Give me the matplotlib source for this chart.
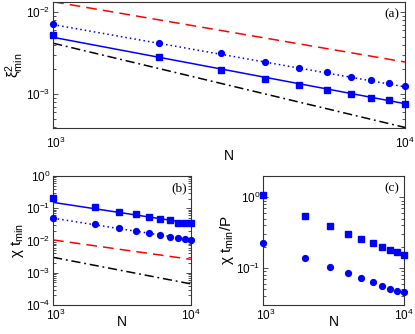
import numpy as np
import matplotlib
matplotlib.use("Agg")
import matplotlib.pyplot as plt
from matplotlib.transforms import ScaledTranslation

plt.rcParams['font.family'] = ['Liberation Sans', 'DejaVu Sans']
plt.rcParams['mathtext.fontset'] = 'custom'
plt.rcParams['mathtext.rm'] = 'Liberation Sans'
plt.rcParams['mathtext.it'] = 'Liberation Sans'
plt.rcParams['mathtext.sf'] = 'Liberation Sans'
plt.rcParams['mathtext.default'] = 'regular'

N = [1000, 2000, 3000, 4000, 5000, 6000, 7000, 8000, 9000, 10000]
N_ends = [1000, 10000]

# panel (a): xi^2_min
a_sq = [5.2e-3, 2.8e-3, 1.98e-3, 1.54e-3, 1.3e-3, 1.12e-3, 1.0e-3, 8.9e-4, 8.4e-4, 7.6e-4]
a_ci = [7.1e-3, 4.15e-3, 3.13e-3, 2.48e-3, 2.08e-3, 1.84e-3, 1.61e-3, 1.47e-3, 1.37e-3, 1.25e-3]
a_solid = [4.9e-3, 7.6e-4]
a_dot = [7.0e-3, 1.22e-3]
a_red = [1.33e-2, 2.45e-3]
a_black = [4.15e-3, 3.9e-4]

# panel (b): chi t_min
b_sq = [0.204, 0.11, 0.078, 0.065, 0.053, 0.045, 0.042, 0.036, 0.035, 0.034]
b_ci = [0.051, 0.032, 0.024, 0.0197, 0.0167, 0.0145, 0.013, 0.0122, 0.0113, 0.0106]
b_solid = [0.152, 0.034]
b_dot = [0.049, 0.0105]
b_red = [0.0104, 0.0026]
b_black = [0.003, 4.5e-4]

# panel (c): chi t_min / P
c_sq = [1.08, 0.55, 0.39, 0.30, 0.257, 0.225, 0.2, 0.18, 0.168, 0.154]
c_ci = [0.223, 0.137, 0.102, 0.084, 0.071, 0.063, 0.056, 0.051, 0.048, 0.045]

blue = '#0000ff'
fig = plt.figure(figsize=(4.15, 3.34), dpi=100)
ax_a = fig.add_axes([0.128, 0.617, 0.848, 0.377])
ax_b = fig.add_axes([0.128, 0.087, 0.332, 0.386])
ax_c = fig.add_axes([0.634, 0.087, 0.339, 0.386])


def style(ax, xpad, lpad):
    ax.set_xscale('log')
    ax.set_yscale('log')
    ax.set_xlim(1000, 10000)
    ax.set_xticks([1000, 10000])
    ax.tick_params(which='both', direction='in', top=True, right=True,
                   labelsize=8.5, width=0.6, color='#333333')
    ax.tick_params(which='major', length=3.5)
    ax.tick_params(which='minor', length=2)
    ax.tick_params(axis='x', which='minor', length=0)
    ax.tick_params(axis='x', pad=xpad)
    ax.tick_params(axis='y', pad=2)
    for s in ax.spines.values():
        s.set_linewidth(0.8)
        s.set_color('#333333')
    # nudge the left label a bit right, like the original
    off = ScaledTranslation(3 / 100, 0, fig.dpi_scale_trans)
    lab = ax.get_xticklabels()[0]
    lab.set_transform(lab.get_transform() + off)
    ax.set_xlabel('N', fontsize=10, labelpad=lpad)


def marks(ax, sq, ci):
    ax.plot(N, sq, 's', color=blue, ms=3.8, clip_on=False, zorder=5)
    ax.plot(N, ci, 'o', color=blue, ms=4.2, clip_on=False, zorder=5)


# (a)
ax_a.plot(N_ends, a_red, color='red', ls=(0, (7, 4)), lw=1.1)
ax_a.plot(N_ends, a_black, color='black', ls=(0, (6, 2.5, 1.2, 2.5)), lw=1.1)
ax_a.plot(N_ends, a_solid, color=blue, ls='-', lw=1.1)
ax_a.plot(N_ends, a_dot, color=blue, ls=(0, (1, 2)), lw=1.1)
marks(ax_a, a_sq, a_ci)
style(ax_a, 6, -2)
ax_a.set_ylim(3.85e-4, 1.32e-2)
ax_a.set_ylabel(r'$\xi^2_{min}$', fontsize=11, labelpad=0)
ax_a.text(0.985, 0.95, '(a)', transform=ax_a.transAxes, ha='right', va='top',
          fontsize=9.5, family='Liberation Serif')

# (b)
ax_b.plot(N_ends, b_red, color='red', ls=(0, (7, 4)), lw=1.1)
ax_b.plot(N_ends, b_black, color='black', ls=(0, (6, 2.5, 1.2, 2.5)), lw=1.1)
ax_b.plot(N_ends, b_solid, color=blue, ls='-', lw=1.1)
ax_b.plot(N_ends, b_dot, color=blue, ls=(0, (1, 2)), lw=1.1)
marks(ax_b, b_sq, b_ci)
style(ax_b, 2, -6)
ax_b.set_ylim(1e-4, 1)
ax_b.set_yticks([1e-4, 1e-3, 1e-2, 1e-1, 1])
ax_b.set_ylabel(r'$\chi\ t_{min}$', fontsize=11, labelpad=0)
ax_b.text(0.97, 0.95, '(b)', transform=ax_b.transAxes, ha='right', va='top',
          fontsize=9.5, family='Liberation Serif')

# (c)
marks(ax_c, c_sq, c_ci)
style(ax_c, 2, -6)
ax_c.set_ylim(0.03, 2)
ax_c.set_ylabel(r'$\chi\ t_{min}/P$', fontsize=11, labelpad=0)
ax_c.text(0.97, 0.95, '(c)', transform=ax_c.transAxes, ha='right', va='top',
          fontsize=9.5, family='Liberation Serif')

fig.savefig('out.png', dpi=100)
